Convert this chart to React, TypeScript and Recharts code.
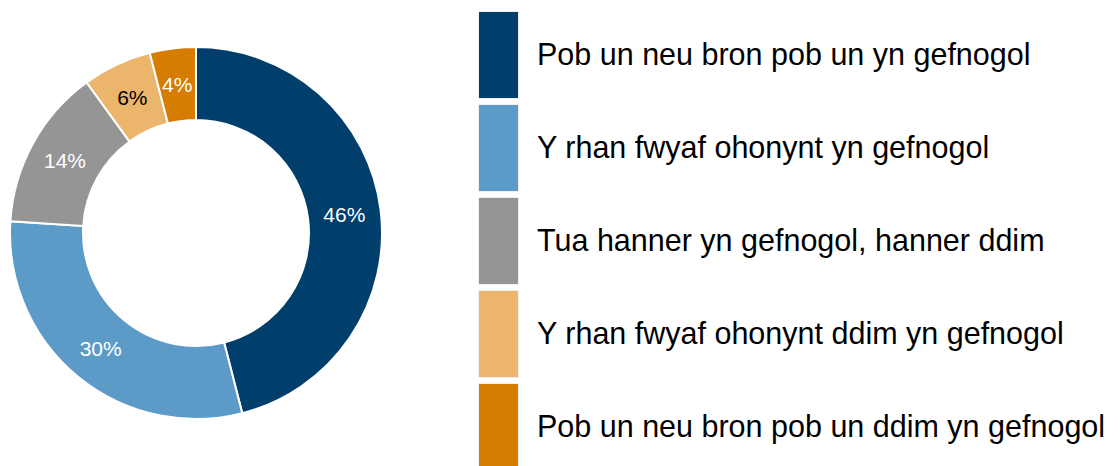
import React from "react";
import { PieChart, Pie, Cell, Legend } from "recharts";

const categories = [
  "Pob un neu bron pob un yn gefnogol",
  "Y rhan fwyaf ohonynt yn gefnogol",
  "Tua hanner yn gefnogol, hanner ddim",
  "Y rhan fwyaf ohonynt ddim yn gefnogol",
  "Pob un neu bron pob un ddim yn gefnogol",
];
const shares = [46, 30, 14, 6, 4];
const colors = ["#003e6c", "#5c9bc8", "#959595", "#ebb56c", "#d67c00"];
const labelColors = ["#ffffff", "#ffffff", "#ffffff", "#000000", "#ffffff"];

const data = categories.map((name, i) => ({ name, value: shares[i] }));

const RADIAN = Math.PI / 180;
const FONT = "'Liberation Sans', Arial, sans-serif";

const renderLabel = (props: any) => {
  const { cx, cy, midAngle, innerRadius, outerRadius, value, index } = props;
  const r = (innerRadius + outerRadius) / 2;
  const x = cx + r * Math.cos(-midAngle * RADIAN);
  const y = cy + r * Math.sin(-midAngle * RADIAN);
  return (
    <text
      x={x}
      y={y}
      fill={labelColors[index]}
      textAnchor="middle"
      dominantBaseline="central"
      fontSize={21}
      fontFamily={FONT}
    >
      {`${value}%`}
    </text>
  );
};

const renderLegend = () => (
  <div style={{ fontFamily: FONT }}>
    {categories.map((name, i) => (
      <div
        key={name}
        style={{ display: "flex", alignItems: "center", height: 93 }}
      >
        <div
          style={{
            width: 39,
            height: 86,
            background: colors[i],
            outline: "1px solid #f0f0f0",
            flexShrink: 0,
          }}
        />
        <span
          style={{
            marginLeft: 19,
            fontSize: 30.5,
            color: "#000",
            whiteSpace: "nowrap",
          }}
        >
          {name}
        </span>
      </div>
    ))}
  </div>
);

export default function App() {
  return (
    <div style={{ position: "absolute", left: 0, top: 0, background: "#fff" }}>
      <PieChart width={1120} height={466} margin={{ top: 0, right: 0, bottom: 0, left: 0 }}>
        <Pie
          data={data}
          dataKey="value"
          nameKey="name"
          cx={196}
          cy={233}
          innerRadius={113}
          outerRadius={186}
          startAngle={90}
          endAngle={-270}
          stroke="#ffffff"
          strokeWidth={2}
          label={renderLabel}
          labelLine={false}
          isAnimationActive={false}
        >
          {data.map((d, i) => (
            <Cell key={d.name} fill={colors[i]} />
          ))}
        </Pie>
        <Legend
          content={renderLegend}
          wrapperStyle={{ position: "absolute", left: 479, top: 8, width: 640 }}
        />
      </PieChart>
    </div>
  );
}
